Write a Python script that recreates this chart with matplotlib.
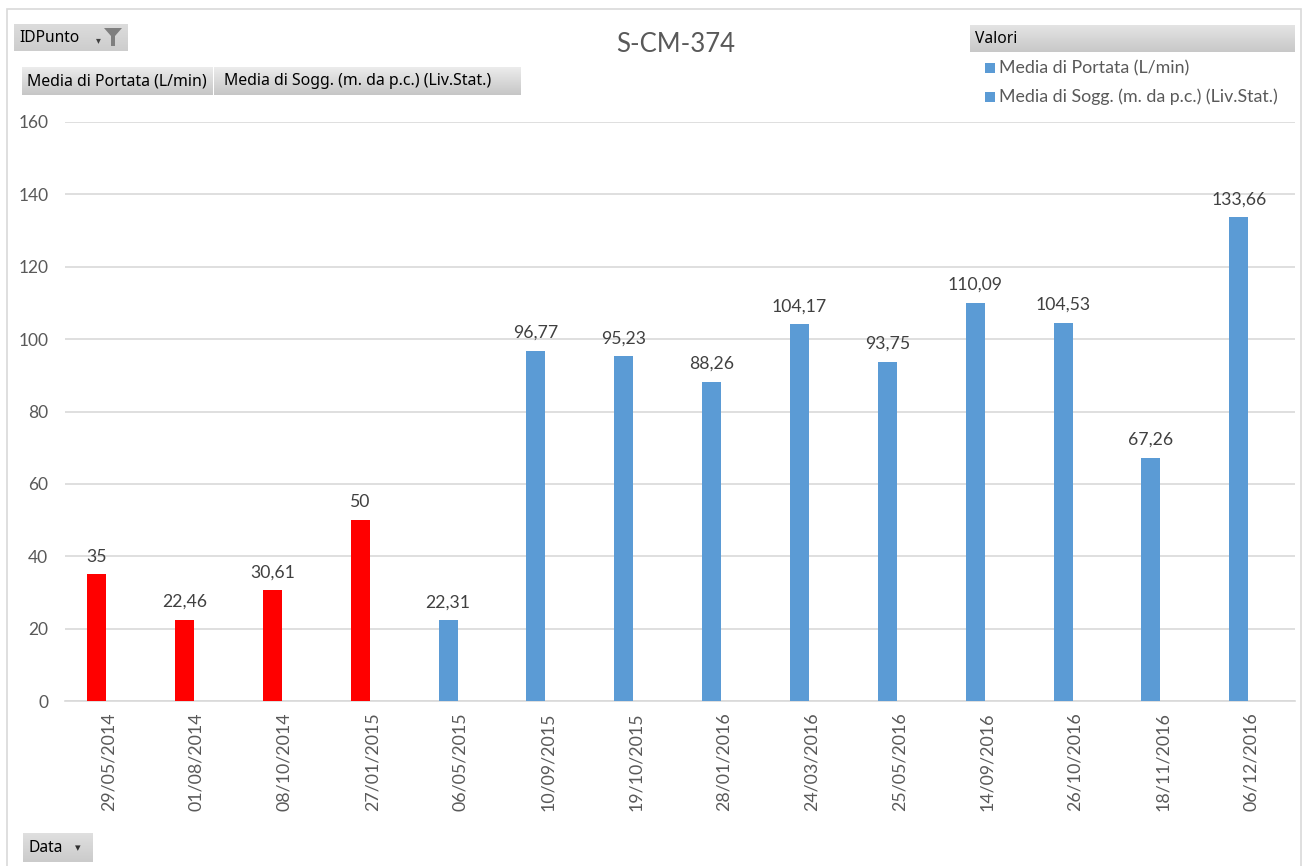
import numpy as np
import matplotlib
matplotlib.use("Agg")
import matplotlib.pyplot as plt
import matplotlib.transforms as mtransforms
from matplotlib.patches import Rectangle, Polygon

# Pivot chart data: average flow per sampling date
dates = ["29/05/2014", "01/08/2014", "08/10/2014", "27/01/2015", "06/05/2015",
         "10/09/2015", "19/10/2015", "28/01/2016", "24/03/2016", "25/05/2016",
         "14/09/2016", "26/10/2016", "18/11/2016", "06/12/2016"]
portata = [35, 22.46, 30.61, 50, 22.31, 96.77, 95.23, 88.26, 104.17, 93.75,
           110.09, 104.53, 67.26, 133.66]
highlighted = [True, True, True, True, False, False, False, False, False, False,
               False, False, False, False]

title = "S-CM-374"
series_names = ["Media di Portata (L/min)", "Media di Sogg. (m. da p.c.) (Liv.Stat.)"]
y_ticks = [0, 20, 40, 60, 80, 100, 120, 140, 160]

BLUE = "#5B9BD5"
RED = "#FF0000"
W, H = 1313, 866
FONT = ["Lato", "DejaVu Sans"]
BTN_FONT = ["Noto Sans", "DejaVu Sans"]

fig = plt.figure(figsize=(W / 100, H / 100), dpi=100)
fig.patch.set_facecolor("white")


def fx(x):
    return x / W


def fy(y):
    return 1 - y / H


# outer chart border
fig.add_artist(Rectangle((fx(7), fy(880)), fx(1301 - 7), (880 - 9) / H,
                         transform=fig.transFigure, fill=False,
                         edgecolor="#d9d9d9", linewidth=1.2))

# plot area
ax = fig.add_axes([fx(65), fy(701), fx(1295 - 65), (701 - 122) / H])
x = np.arange(len(dates))
colors = [RED if h else BLUE for h in highlighted]
bars = ax.bar(x, portata, width=0.216, color=colors, zorder=3)

ax.set_xlim(-0.36, len(dates) - 0.36)
ax.set_ylim(0, 160)
ax.set_yticks(y_ticks)
ax.set_yticklabels([str(v) for v in y_ticks], fontfamily=FONT, fontsize=12.5,
                   color="#595959")
ax.set_xticks(x)
ax.set_xticklabels(dates, rotation=90, fontfamily=FONT, fontsize=12.8,
                   color="#595959", va="top")
ax.tick_params(axis="both", length=0)
ax.tick_params(axis="y", pad=12)
ax.tick_params(axis="x", pad=8)
# date labels sit a little to the right of their bars
shift = mtransforms.ScaledTranslation(12 / 100, 0, fig.dpi_scale_trans)
for lbl in ax.get_xticklabels():
    lbl.set_transform(lbl.get_transform() + shift)
ax.grid(axis="y", color="#d9d9d9", linewidth=1.2, zorder=0)
for s in ["left", "right", "top"]:
    ax.spines[s].set_visible(False)
ax.spines["bottom"].set_color("#d9d9d9")
ax.spines["bottom"].set_linewidth(1.2)
ax.set_facecolor("none")


def fmt(v):
    s = f"{v:.2f}".rstrip("0").rstrip(".")
    return s.replace(".", ",")


for xi, v in zip(x, portata):
    ax.annotate(fmt(v), (xi, v), xytext=(0, 7), textcoords="offset points",
                ha="center", va="bottom", fontfamily=FONT, fontsize=12.7,
                color="#404040")

# title
fig.text(fx(676), fy(44), title, ha="center", va="center", fontfamily=FONT,
         fontsize=18.5, color="#595959")


def gradient_box(x0, y0, x1, y1, top="#ececec", bottom="#c6c6c6"):
    bax = fig.add_axes([fx(x0), fy(y1), fx(x1 - x0), (y1 - y0) / H])
    c0 = np.array(matplotlib.colors.to_rgb(top))
    c1 = np.array(matplotlib.colors.to_rgb(bottom))
    t = np.linspace(0, 1, 64)[:, None, None]
    img = c0 * (1 - t) + c1 * t
    img = np.repeat(img, 2, axis=1)
    bax.imshow(img, aspect="auto", extent=[0, 1, 0, 1])
    bax.set_axis_off()
    return bax


# IDPunto filter button
gradient_box(14, 24, 128, 51, top="#dcdcdc", bottom="#cdcdcd")
fig.text(fx(19), fy(37.5), "IDPunto", ha="left", va="center",
         fontfamily=BTN_FONT, fontsize=11.2, color="#000000")
fig.text(fx(98), fy(40), "\u25be", ha="center", va="center",
         fontfamily=["DejaVu Sans"], fontsize=7, color="#404040")
fig.add_artist(Polygon([(fx(104), fy(28)), (fx(122), fy(28)), (fx(115), fy(36)),
                        (fx(115), fy(46)), (fx(111), fy(46)), (fx(111), fy(36))],
                       closed=True, transform=fig.transFigure,
                       facecolor="#7f7f7f", edgecolor="none"))

# value field buttons
gradient_box(22, 67, 213, 95)
fig.text(fx(27), fy(81), series_names[0], ha="left", va="center",
         fontfamily=BTN_FONT, fontsize=11.4, color="#000000")
gradient_box(214, 67, 521, 95)
fig.text(fx(224), fy(81), series_names[1], ha="left", va="center",
         fontfamily=BTN_FONT, fontsize=11.4, color="#000000")

# legend header and entries
gradient_box(970, 25, 1295, 52, top="#e4e4e4", bottom="#c8c8c8")
fig.text(fx(975), fy(39), "Valori", ha="left", va="center",
         fontfamily=BTN_FONT, fontsize=11.2, color="#000000")
for i, name in enumerate(series_names):
    yc = 68 + 29 * i
    fig.add_artist(Rectangle((fx(985), fy(yc + 5)), fx(10), 10 / H,
                             transform=fig.transFigure, facecolor=BLUE,
                             edgecolor="none"))
    fig.text(fx(999), fy(yc), name, ha="left", va="center", fontfamily=FONT,
             fontsize=12.8, color="#595959")

# Data axis field button
gradient_box(23, 833, 93, 862, top="#e0e0e0", bottom="#cbcbcb")
fig.text(fx(28), fy(848), "Data", ha="left", va="center",
         fontfamily=BTN_FONT, fontsize=11.2, color="#000000")
fig.text(fx(78), fy(848), "\u25be", ha="center", va="center",
         fontfamily=["DejaVu Sans"], fontsize=8, color="#303030")

fig.savefig("out.png", dpi=100, facecolor="white")
